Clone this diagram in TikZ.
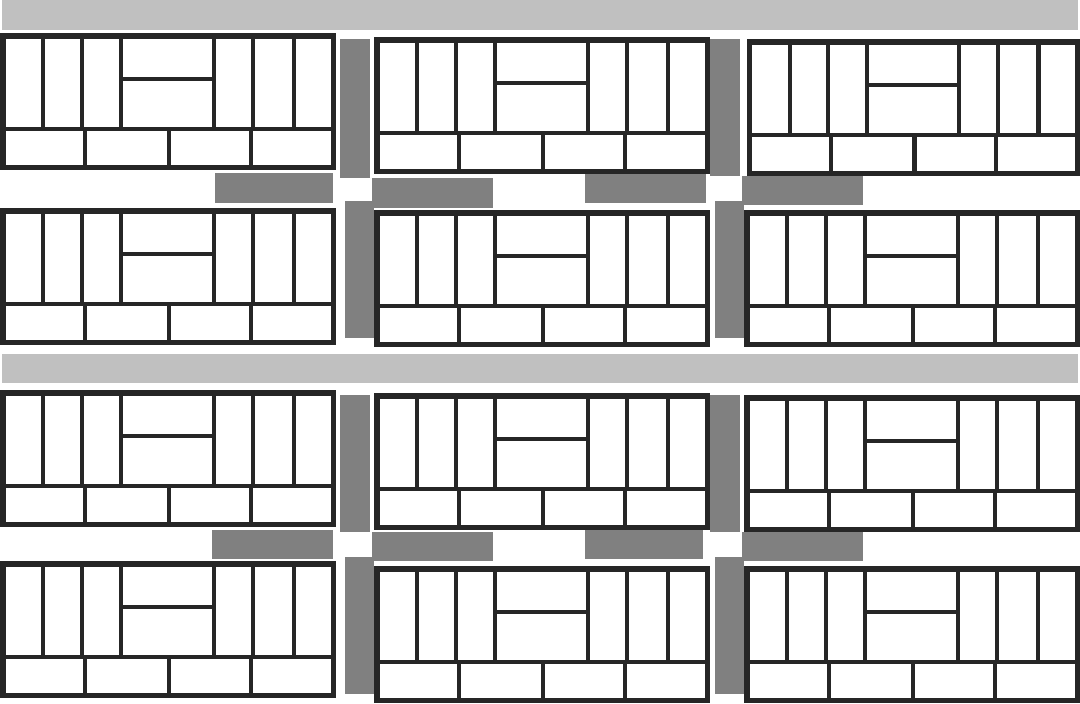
\documentclass[tikz,border=0pt]{standalone}
\usepackage{tikz}
\usetikzlibrary{calc}
\definecolor{wallgray}{HTML}{262626}
\definecolor{bargray}{HTML}{808080}
\definecolor{bandgray}{HTML}{C0C0C0}
\newcommand{\dorm}[3]{%
	\begin{scope}[shift={(#1,#2)}, xscale=#3/336]
		\draw[wall] (2.75,2.75) rectangle (333.25,134.25);
		\draw[part] (2.75,96) -- (333.25,96);
		\foreach \x in {43,82,121,214,253,294} \draw[part] (\x,2.75) -- (\x,96);
		\draw[part] (121,46) -- (214,46);
		\foreach \x in {85,169,251} \draw[part] (\x,96) -- (\x,134.25);
	\end{scope}}

\begin{document}
\begin{tikzpicture}[x=0.01cm, y=-0.01cm,
		wall/.style={draw=wallgray, line width=0.055cm},
		part/.style={draw=wallgray, line width=0.042cm},
		bar/.style={fill=bargray},
		band/.style={fill=bandgray}]
			\useasboundingbox (0,0) rectangle (1080,703);
			\fill[band] (2,0) rectangle (1078,30);
			\fill[band] (2,354) rectangle (1078,383);
			\foreach \a/\b/\c/\d in {340/39/370/178, 710/39/740/176, 345/201/374/338, 715/201/744/338,
				340/395/370/532, 710/395/740/532, 345/557/374/694, 715/557/744/694,
				215/173/333/203, 372/178/493/208, 585/173/706/203, 742/176/863/205,
				212/530/333/559, 372/532/493/561, 585/530/703/559, 742/532/863/561}
				\fill[bar] (\a,\b) rectangle (\c,\d);
			\dorm{0}{33}{336}
			\dorm{374}{37}{336}
			\dorm{747}{39}{333}
			\dorm{0}{208}{336}
			\dorm{374}{210}{336}
			\dorm{744}{210}{336}
			\dorm{0}{390}{336}
			\dorm{374}{393}{336}
			\dorm{744}{395}{336}
			\dorm{0}{561}{336}
			\dorm{374}{566}{336}
			\dorm{744}{566}{336}
		\end{tikzpicture}
\end{document}
